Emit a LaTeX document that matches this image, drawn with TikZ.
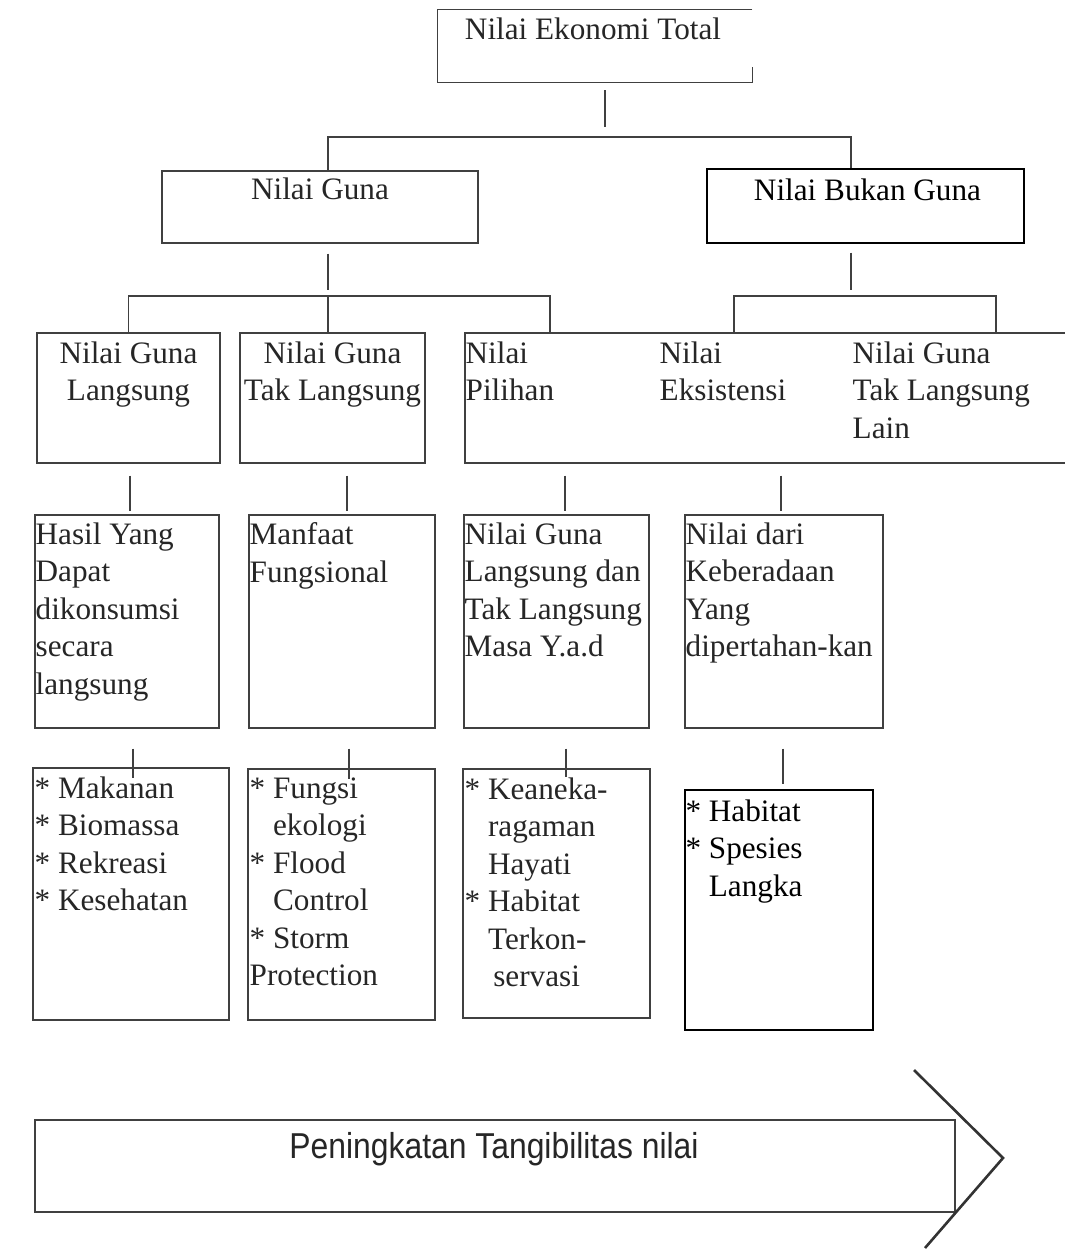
\documentclass[tikz,border=0pt]{standalone}
\usepackage{fontspec}
\setmainfont{Liberation Serif}
\newfontfamily\sansfont{Liberation Sans}
\usetikzlibrary{fit,calc}

\begin{document}
\begin{tikzpicture}
[x=0.5pt,y=-0.5pt]
\tikzset{box/.style={draw=black!75,line width=0.7pt,inner sep=0pt},
  txt/.style={inner sep=0pt,text=black!85,font=\fontsize{15.6}{18.75}\selectfont},
  ctxt/.style={txt,align=center,anchor=north},
  ltxt/.style={txt,align=left,anchor=north west},
  link/.style={draw=black!75,line width=0.7pt}}
\useasboundingbox (0,0) rectangle (1065,1249);

% boxes
\node [inner sep=0pt,fit={(438,10) (752,82)}] (tot) {};
\node [box,fit={(162,171) (478,243)}] (guna) {};
\node [box,draw=black,fit={(707,169) (1024,243)}] (bukan) {};
\node [box,fit={(37,333) (220,463)}] (lang) {};
\node [box,fit={(240,333) (425,463)}] (tlang) {};
\node [box,fit={(465,333) (1080,463)}] (big) {};
\node [box,fit={(35,515) (219,728)}] (hasil) {};
\node [box,fit={(249,515) (435,728)}] (manfaat) {};
\node [box,fit={(464,515) (649,728)}] (nguna) {};
\node [box,fit={(685,515) (883,728)}] (ndari) {};
\node [box,fit={(33,768) (229,1020)}] (mak) {};
\node [box,fit={(248,769) (435,1020)}] (fung) {};
\node [box,fit={(463,769) (650,1018)}] (kean) {};
\node [box,draw=black,line width=0.9pt,fit={(685,790) (873,1030)}] (hab) {};
\node [box,fit={(35,1120) (955,1212)}] (peng) {};

\draw [link] (tot.north east) -- (tot.north west) -- (tot.south west)
  -- (tot.south east) -- ++(0,-15);

% texts
\node [ctxt] (totT) at ($(tot.north)+(-2,8)$) {Nilai Ekonomi Total};
\node [ctxt] (gunaT) at ($(guna.north)+(0,7)$) {Nilai Guna};
\node [ctxt,text=black] (bukanT) at ($(bukan.north)+(2,10)$) {Nilai Bukan Guna};
\node [ctxt] (langT) at ($(lang.north)+(0,9)$) {Nilai Guna\\Langsung};
\node [ctxt] (tlangT) at ($(tlang.north)+(0,9)$) {Nilai Guna\\Tak Langsung};
\node [ltxt] (pilT) at ($(big.north west)+(1,9)$) {Nilai\\Pilihan};
\node [ltxt] (eksT) at ($(big.north west)+(195,9)$) {Nilai\\Eksistensi};
\node [ltxt] (lainT) at ($(big.north west)+(388,9)$) {Nilai Guna\\Tak Langsung\\Lain};
\node [ltxt] (hasilT) at ($(hasil.north west)+(1,8)$) {Hasil Yang\\Dapat\\dikonsumsi\\secara\\langsung};
\node [ltxt] (manfaatT) at ($(manfaat.north west)+(1,8)$) {Manfaat\\Fungsional};
\node [ltxt] (ngunaT) at ($(nguna.north west)+(1,8)$) {Nilai Guna\\Langsung dan\\Tak Langsung\\Masa Y.a.d};
\node [ltxt] (ndariT) at ($(ndari.north west)+(1,8)$) {Nilai dari\\Keberadaan\\Yang\\dipertahan-kan};
\node [ltxt] (makT) at ($(mak.north west)+(2,9)$) {*~Makanan\\*~Biomassa\\*~Rekreasi\\*~Kesehatan};
\node [ltxt] (fungT) at ($(fung.north west)+(2,9)$) {*~Fungsi\\\phantom{*~}ekologi\\*~Flood\\\phantom{*~}Control\\*~Storm\\Protection};
\node [ltxt] (keanT) at ($(kean.north west)+(2,9)$) {*~Keaneka-\\\phantom{*~}ragaman\\\phantom{*~}Hayati\\*~Habitat\\\phantom{*~}Terkon-\\\phantom{*~}\,servasi};
\node [ltxt,text=black] (habT) at ($(hab.north west)+(1,10)$) {*~Habitat\\*~Spesies\\\phantom{*~}Langka};
\node [txt,anchor=base,font=\sansfont\fontsize{18}{20}\selectfont] (pengT) at (494,1158)
  {\scalebox{0.885}[1]{Peningkatan Tangibilitas nilai}};

% connectors
\coordinate (t1) at (605,137);
\coordinate (b1l) at (328,137);
\coordinate (b1r) at (851,137);
\coordinate (b2) at (328,296);
\coordinate (b2r) at (550,296);
\coordinate (b3) at (851,296);
\coordinate (b3l) at (734,296);
\coordinate (b3r) at (996,296);

\draw [link,shorten <=4pt,shorten >=5pt] (tot.south -| t1) -- (t1);
\draw [link] (guna.north -| b1l) |- (b1r) -- (bukan.north -| b1r);
\draw [link,shorten <=5pt,shorten >=3pt] (guna.south -| b2) -- (b2);
\draw [link] (lang.north) |- (b2r) -- (big.north -| b2r);
\draw [link] (b2) -- (tlang.north -| b2);
\draw [link,shorten <=4.5pt,shorten >=3pt] (bukan.south -| b3) -- (b3);
\draw [link] (big.north -| b3l) |- (b3r) -- (big.north -| b3r);

\foreach \from/\to/\dx in {lang/hasil/3,tlang/manfaat/5,big/nguna/8.5,big/ndari/-3}
  \draw [link,shorten <=6pt,shorten >=1.5pt] ($(\to.north |- \from.south)+(\dx,0)$) -- ($(\to.north)+(\dx,0)$);
\foreach \from/\to/\dx/\sb in {hasil/mak/2/-5.5,manfaat/fung/7.5/-5.5,nguna/kean/9.5/-4.5,ndari/hab/4/2.5}
  \draw [link,shorten <=10pt,shorten >=\sb pt] ($(\to.north |- \from.south)+(\dx,0)$) -- ($(\to.north)+(\dx,0)$);

% arrow head
\draw [black!80,line width=1.3pt] (914,1070) -- (1003,1158) -- (925,1248);

\end{tikzpicture}
\end{document}
